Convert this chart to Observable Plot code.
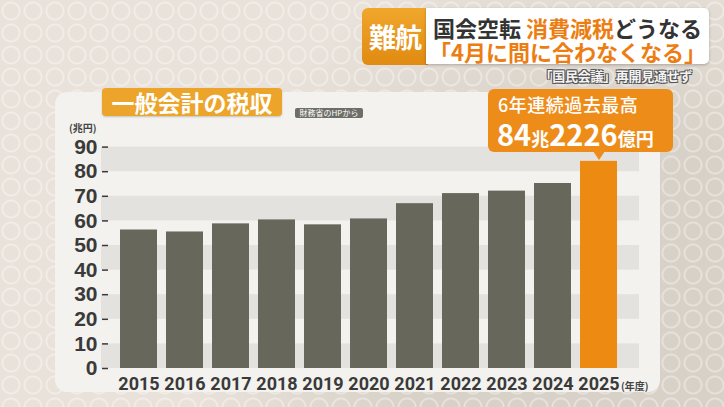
<!DOCTYPE html>
<html>
<head>
<meta charset="utf-8">
<script src="https://cdn.jsdelivr.net/npm/d3@7"></script>
<script src="https://cdn.jsdelivr.net/npm/@observablehq/plot@0.6"></script>
<style>
  html, body { margin: 0; padding: 0; }
  body { width: 724px; height: 407px; overflow: hidden; font-family: "Noto Sans CJK JP", "Noto Sans", sans-serif; }
  #stage {
    position: relative; width: 724px; height: 407px; overflow: hidden;
    background-color: #e9e2da;
    background-image:
      radial-gradient(circle at 50% 50%, transparent 7px, rgba(255,255,255,0.35) 8px, rgba(255,255,255,0.35) 9px, transparent 10px),
      radial-gradient(circle at 85% 85%, #d8d1c8 0, #d8d1c8 30%, transparent 60%);
    background-size: 22px 22px, 724px 407px;
  }
  .abs { position: absolute; }
  #panel { left: 55px; top: 92px; width: 605px; height: 300px; background: #f3f2ee; border-radius: 12px; }
  #plot { left: 0; top: 0; }
  #tagA { left: 362px; top: 8px; width: 66px; height: 57px; background: linear-gradient(#f0a72c, #e08a12); border-radius: 6px 0 0 6px;
          color: #fff; font-weight: 700; font-size: 27px; line-height: 27px; display: flex; align-items: center; justify-content: center; letter-spacing: -1px; }
  #tagB { left: 426px; top: 8px; width: 283px; height: 56px; background: #fff; border-radius: 0 5px 5px 0; box-shadow: 0 1px 3px rgba(0,0,0,0.25);
          text-align: center; font-weight: 700; }
  #tagB .l1 { position: absolute; left: 0; width: 283px; top: 8px; font-size: 22px; line-height: 22px; color: #333; }
  #tagB .l2 { position: absolute; left: 0; width: 283px; top: 32px; font-size: 22px; line-height: 22px; color: #ec7d12; }
  .or { color: #ec7d12; }
  #sub { right: 32px; top: 69px; font-size: 13px; line-height: 14px; font-weight: 700; color: #f4f4f4; letter-spacing: -0.3px;
         text-shadow: -1px -1px 0 #555, 1px -1px 0 #555, -1px 1px 0 #555, 1px 1px 0 #555; }
  #title { left: 102px; top: 88px; width: 180px; height: 28px; background: #eca42a; border-radius: 4px; color: #fff;
           font-weight: 700; font-size: 23px; line-height: 28px; text-align: center; box-shadow: 0 1px 2px rgba(0,0,0,0.2); }
  #src { left: 295px; top: 108px; width: 68px; height: 10px; background: #6e6e68; border-radius: 2px; color: #fff;
         font-size: 8px; line-height: 10px; text-align: center; }
  #yunit { left: 69px; top: 123px; font-size: 10px; line-height: 10px; font-weight: 700; color: #444; }
  #xunit { left: 621px; top: 381px; font-size: 10px; line-height: 10px; font-weight: 700; color: #444; }
  #note { left: 488px; top: 89px; width: 185px; height: 63px; background: #ee8c1a; border-radius: 6px; color: #fff; }
  #note .l1 { position: absolute; left: 10px; top: 6px; font-size: 18px; line-height: 18px; font-weight: 500; letter-spacing: 0.5px; }
  #note .l2 { position: absolute; left: 9px; top: 30px; line-height: 29px; font-weight: 700; white-space: nowrap; }
  #note .big { font-size: 29px; }
  #note .small { font-size: 18px; }
  #ptr { left: 593px; top: 151px; width: 0; height: 0; border-left: 6px solid transparent; border-right: 6px solid transparent; border-top: 9px solid #ee8c1a; }
</style>
</head>
<body>
<div id="stage">
  <div id="panel" class="abs"></div>
  <div id="plot" class="abs"></div>
  <div id="tagA" class="abs">難航</div>
  <div id="tagB" class="abs">
    <div class="l1">国会空転 <span class="or">消費減税</span>どうなる</div>
    <div class="l2">「4月に間に合わなくなる」</div>
  </div>
  <div id="sub" class="abs">「国民会議」再開見通せず</div>
  <div id="title" class="abs">一般会計の税収</div>
  <div id="src" class="abs">財務省のHPから</div>
  <div id="yunit" class="abs">(兆円)</div>
  <div id="xunit" class="abs">(年度)</div>
  <div id="note" class="abs">
    <div class="l1">6年連続過去最高</div>
    <div class="l2"><span class="big">84</span><span class="small">兆</span><span class="big">2226</span><span class="small">億円</span></div>
  </div>
  <div id="ptr" class="abs"></div>
</div>
<script>
// Data
const years = ["2015", "2016", "2017", "2018", "2019", "2020", "2021", "2022", "2023", "2024", "2025"];
const revenue = [56.3, 55.5, 58.8, 60.4, 58.4, 60.8, 67.0, 71.1, 72.1, 75.2, 84.2];
const highlightYear = "2025";
const yTicks = [0, 10, 20, 30, 40, 50, 60, 70, 80, 90];
const stripeLo = [0, 20, 40, 60, 80];
const stripeHi = [10, 30, 50, 70, 90];

// Styles
const GRAY = "#68675c";
const ORANGE = "#ed8a12";
const STRIPE = "#e3e2de";
const INK = "#3a3a3a";

const data = years.map((year, i) => ({year, value: revenue[i]}));
const stripes = stripeLo.map((lo, i) => ({lo, hi: stripeHi[i]}));

const chart = Plot.plot({
  width: 724,
  height: 407,
  marginLeft: 101,
  marginRight: 85,
  marginTop: 146.6,
  marginBottom: 39,
  style: {background: "transparent", overflow: "visible"},
  x: {domain: years, range: [101, 636], paddingInner: 0.2, paddingOuter: 0.39},
  y: {domain: [0, 90]},
  marks: [
    Plot.rect(stripes, {y1: "lo", y2: "hi", fill: STRIPE}),
    Plot.barY(data, {x: "year", y: "value", fill: d => d.year === highlightYear ? ORANGE : GRAY}),
    Plot.axisY(yTicks, {
      tickSize: 0, tickPadding: 4, fontSize: 21, fontWeight: 700, fontFamily: "Liberation Sans, sans-serif",
      color: INK, label: null, line: true, strokeWidth: 2
    }),
    Plot.axisY(yTicks, {anchor: "right", frameAnchor: "left", tickSize: 6, tickFormat: () => "", color: INK, label: null, strokeWidth: 1.5}),
    Plot.axisX({
      tickSize: 0, tickPadding: 9, fontSize: 18, fontWeight: 700, fontFamily: "Liberation Sans Narrow, Roboto, sans-serif",
      color: INK, label: null, line: true, strokeWidth: 2
    })
  ]
});
document.getElementById("plot").appendChild(chart);
</script>
</body>
</html>
